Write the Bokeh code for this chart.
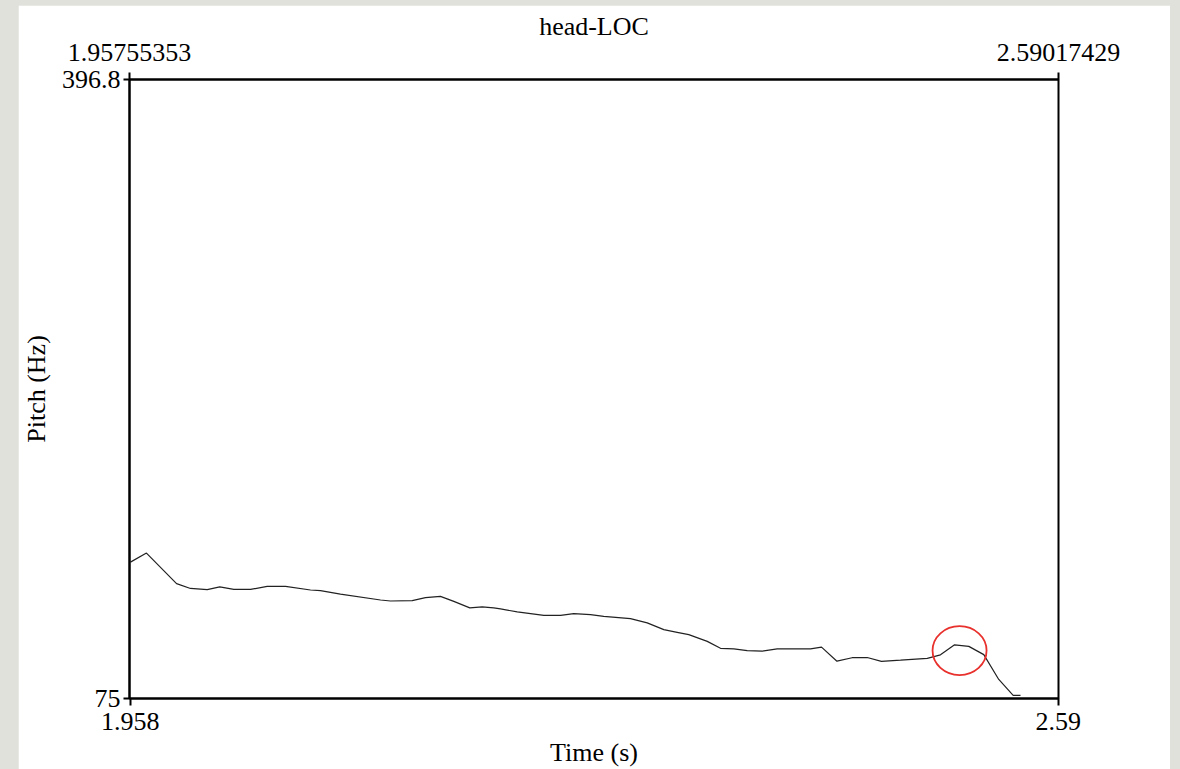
from bokeh.plotting import figure
from bokeh.layouts import column
from bokeh.models import Range1d, FixedTicker, LinearAxis
from bokeh.embed import file_html
from bokeh.resources import INLINE

# Pitch contour (time in seconds, F0 in Hz)
time_s = [1.9582, 1.9691, 1.9896, 1.9991, 2.0105, 2.0190, 2.0286, 2.0400, 2.0513,
          2.0638, 2.0808, 2.0876, 2.1012, 2.1285, 2.1353, 2.1501, 2.1591, 2.1693,
          2.1784, 2.1893, 2.1977, 2.2056, 2.2102, 2.2216, 2.2397, 2.2511, 2.2601,
          2.2715, 2.2805, 2.2987, 2.3101, 2.3214, 2.3305, 2.3384, 2.3510, 2.3600,
          2.3691, 2.3782, 2.3884, 2.3986, 2.4213, 2.4288, 2.4393, 2.4496, 2.4599,
          2.4696, 2.4826, 2.5008, 2.5098, 2.5194, 2.5291, 2.5393, 2.5495, 2.5593,
          2.5643]
pitch_hz = [145.9, 150.6, 134.7, 132.2, 131.6, 133.0, 131.7, 131.7, 133.3,
            133.3, 131.4, 131.1, 129.3, 126.2, 125.7, 125.9, 127.4, 128.1,
            125.5, 122.1, 122.6, 122.1, 121.6, 120.0, 118.2, 118.2, 119.1,
            118.6, 117.7, 116.5, 114.3, 110.8, 109.4, 108.2, 104.7, 101.1,
            100.8, 99.9, 99.6, 100.8, 100.8, 101.7, 94.4, 96.2, 96.3,
            94.3, 94.9, 95.9, 97.7, 102.9, 102.1, 97.8, 84.9, 76.6,
            76.6]

t_start, t_end = 1.95755353, 2.59017429
f_min, f_max = 75, 396.8
top_labels = ["1.95755353", "2.59017429"]
bottom_ticks = [1.958, 2.59]
bottom_labels = ["1.958", "2.59"]
left_ticks = [75, 396.8]
left_labels = ["75", "396.8"]

# highlighted peak near the end of the contour
mark_t, mark_f = 2.5228, 99.9

FONT = "Liberation Serif"
FS = "26px"
PAGE_GRAY = "#e1e1dc"

p = figure(width=1152, height=764, output_backend="svg", toolbar_location=None,
           x_range=Range1d(t_start, t_end), y_range=Range1d(f_min, f_max),
           min_border_left=111, min_border_right=112, min_border_top=74,
           min_border_bottom=70, border_fill_color="white",
           background_fill_color="white", title="head-LOC",
           margin=(5, 10, 0, 18))
p.grid.visible = False
p.outline_line_color = "black"
p.outline_line_width = 2

p.title.align = "center"
p.title.text_font = FONT
p.title.text_font_size = FS
p.title.text_font_style = "normal"
p.title.text_color = "black"
p.title.standoff = 0


def style_axis(ax, ticks, labels):
    ax.ticker = FixedTicker(ticks=ticks)
    ax.major_label_overrides = {t: l for t, l in zip(ticks, labels)}
    ax.major_label_text_font = FONT
    ax.major_label_text_font_size = FS
    ax.major_label_text_color = "black"
    ax.axis_label_text_font = FONT
    ax.axis_label_text_font_size = FS
    ax.axis_label_text_font_style = "normal"
    ax.axis_label_text_color = "black"
    ax.axis_line_color = "black"
    ax.axis_line_width = 2
    ax.major_tick_line_color = "black"
    ax.major_tick_line_width = 2
    ax.major_tick_out = 7
    ax.major_tick_in = 0
    ax.minor_tick_line_color = None


xb = p.xaxis[0]
style_axis(xb, bottom_ticks, bottom_labels)
xb.axis_label = "Time (s)"
xb.major_label_standoff = 7
xb.axis_label_standoff = 5

yl = p.yaxis[0]
style_axis(yl, left_ticks, left_labels)
yl.axis_label = "Pitch (Hz)"
yl.major_tick_out = 6
yl.major_label_standoff = 3
yl.axis_label_standoff = 8

xt = LinearAxis()
style_axis(xt, [t_start, t_end], top_labels)
xt.major_label_standoff = 12
p.add_layout(xt, "above")

p.line(time_s, pitch_hz, line_color="#222222", line_width=1.2)

p.ellipse(x=[mark_t], y=[mark_f], width=0.0368, height=25.4,
          fill_color=None, line_color="#e8302c", line_width=1.8)

page = column(p, styles={"background-color": PAGE_GRAY})

open("out.html", "w").write(file_html(page, INLINE))
